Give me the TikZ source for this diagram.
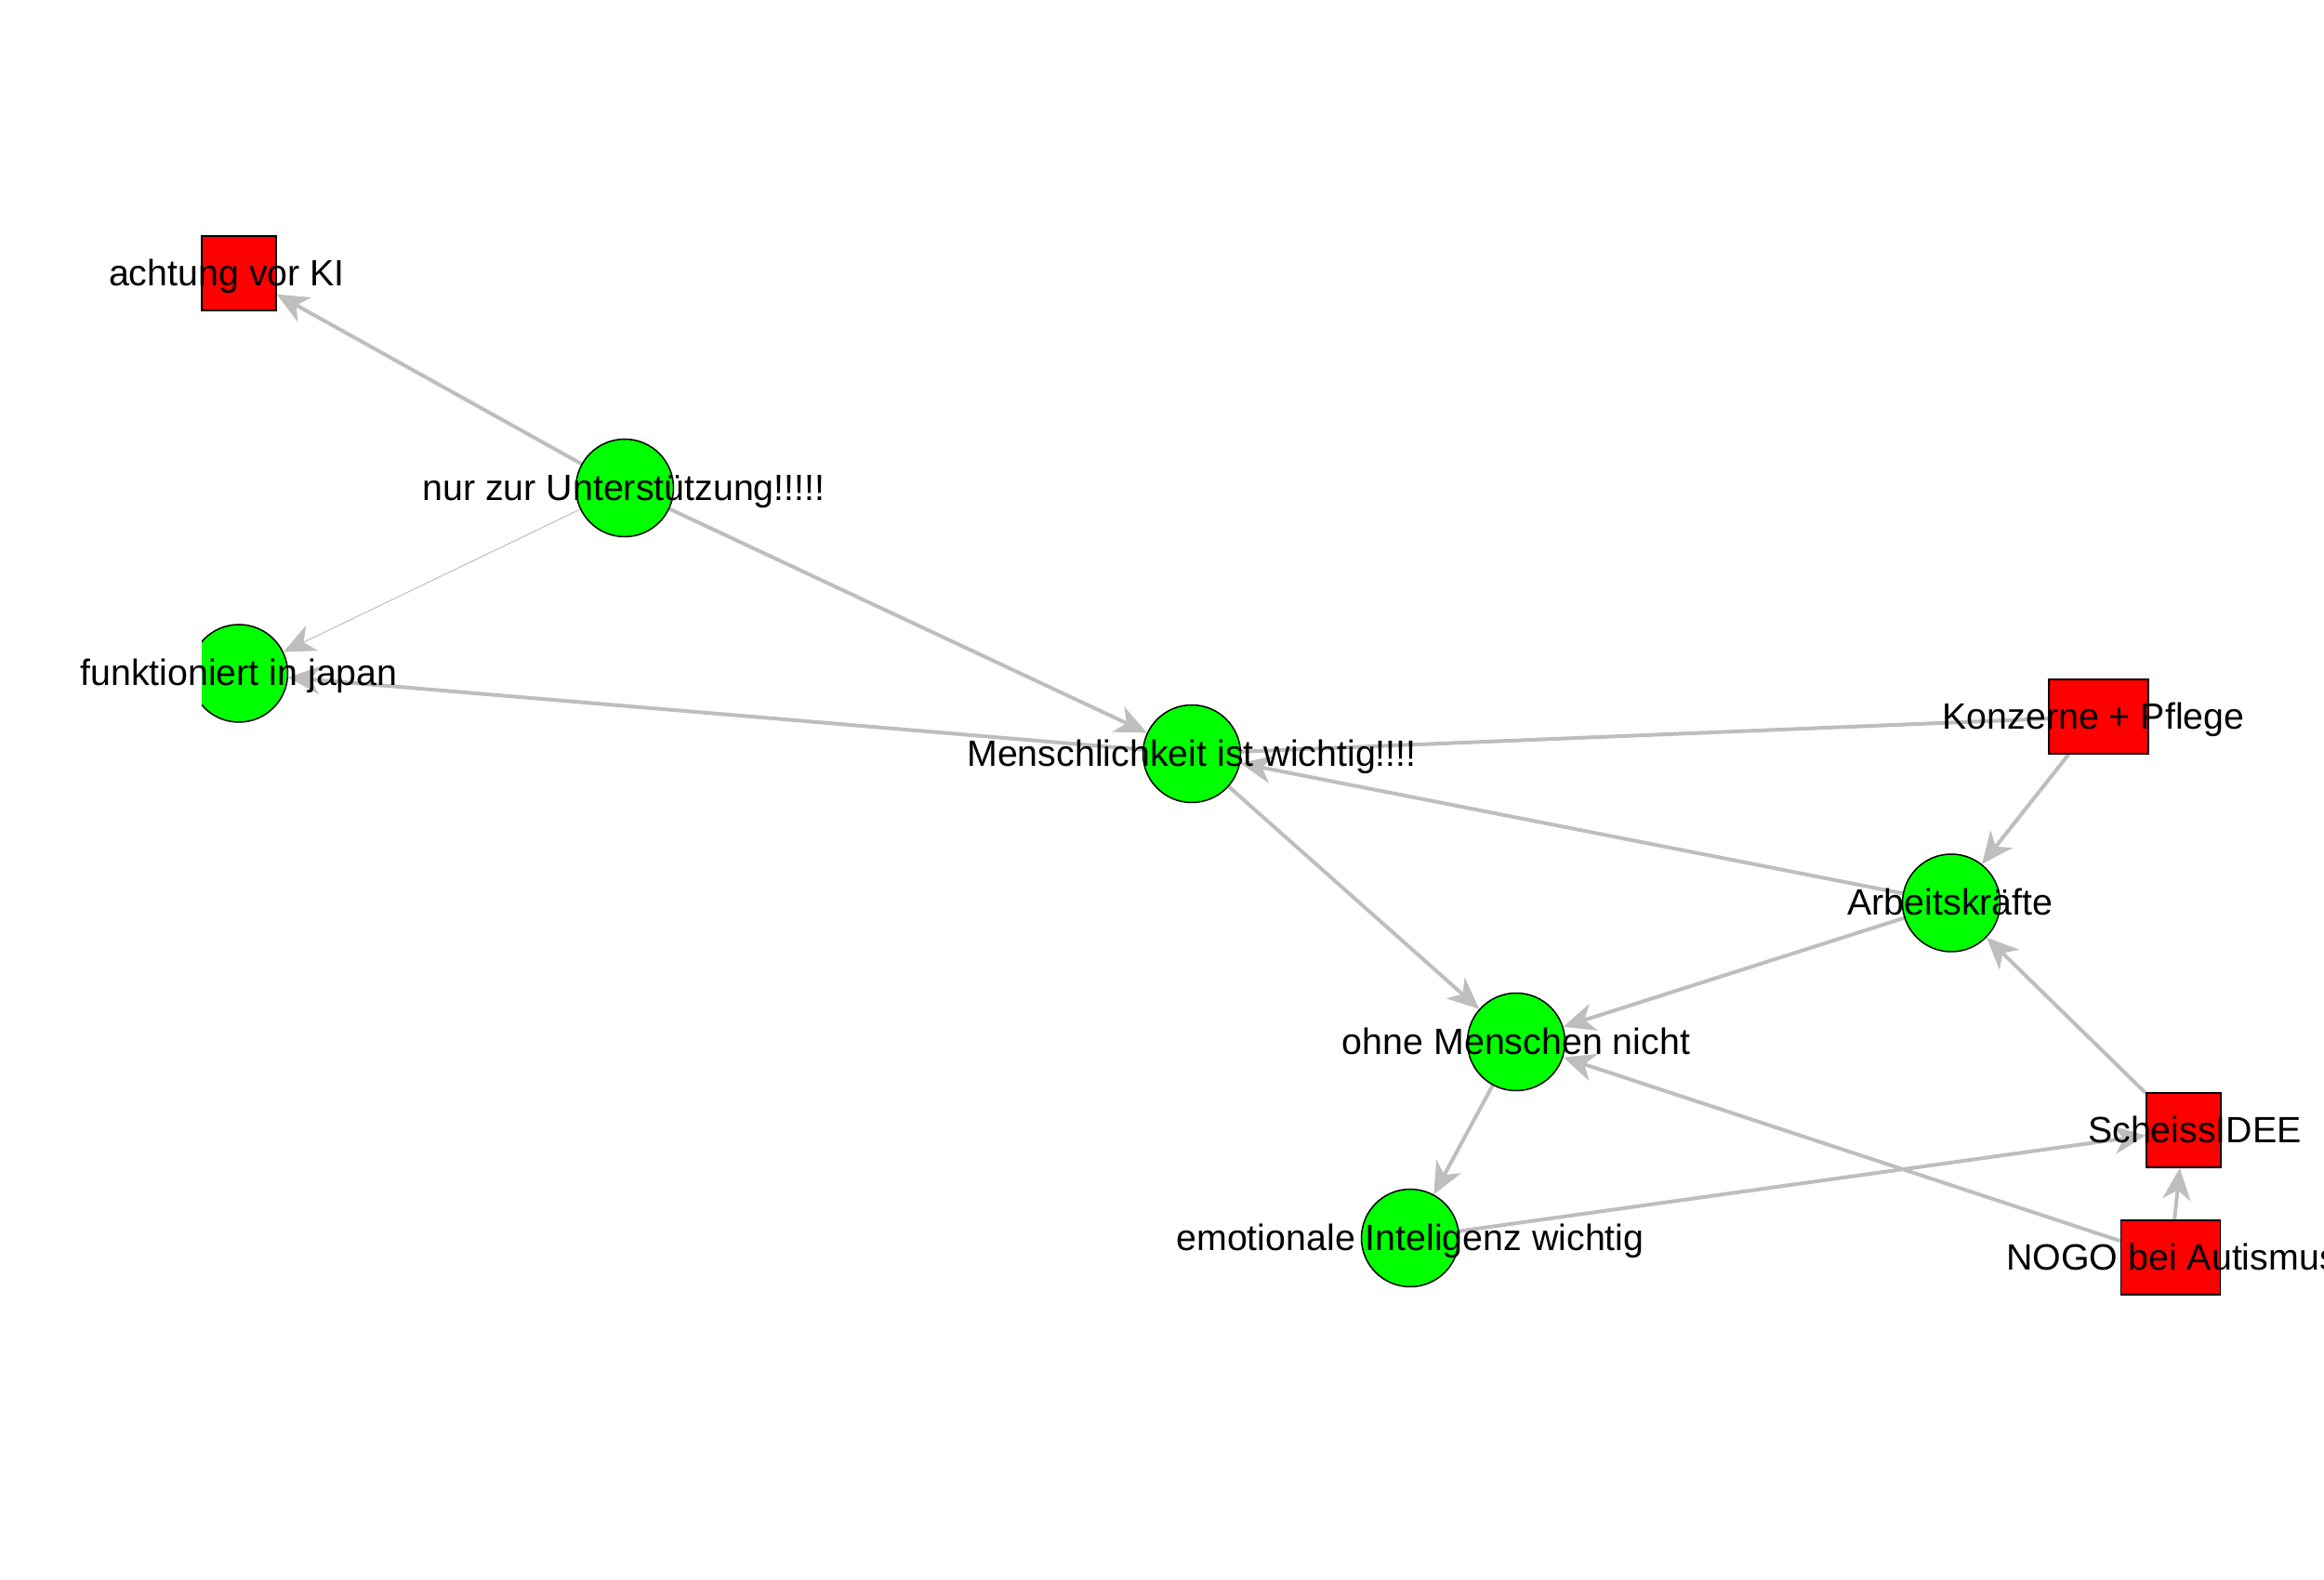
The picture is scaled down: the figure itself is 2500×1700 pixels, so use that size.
\documentclass[tikz,border=0pt]{standalone}
\usepackage{fontspec}
\setmainfont{Liberation Sans}
\usetikzlibrary{arrows.meta,backgrounds}
\definecolor{vgreen}{HTML}{00FF00}
\definecolor{vred}{HTML}{FF0000}
\definecolor{egray}{HTML}{BEBEBE}
\tikzset{
  vcirc/.style={circle, draw=black, line width=0.15mm, fill=vgreen, minimum size=10.5mm, inner sep=0pt},
  vsq/.style={rectangle, draw=black, line width=0.15mm, fill=vred, minimum width=8mm, minimum height=8mm, inner sep=0pt},
  vsqw/.style={vsq, minimum width=10.7mm},
  lab/.style={font=\fontsize{11.2pt}{13pt}\selectfont, inner sep=0pt, text height=2.8mm, text depth=0pt, text=black},
  conn/.style={draw=egray, line width=0.4mm, -{Stealth[length=3.4mm,width=3mm,inset=1mm]}},
  connthin/.style={conn, line width=0.1mm},
  connplain/.style={draw=egray, line width=0.4mm}
}
\begin{document}
\begin{tikzpicture}[x=0.1mm, y=-0.1mm]
\useasboundingbox (0,0) rectangle (2500,1700);
\clip (0,0) rectangle (2500,1700);

% vertices
\node[vsq] (ach) at (257,294) {};
\node[vcirc] (nur) at (672,525) {};
\begin{scope}
  \clip (217,600) rectangle (400,850);
  \node[vcirc] (funk) at (257,724.5) {};
\end{scope}
\node[vcirc] (mensch) at (1282,811) {};
\node[vsqw] (konz) at (2257.5,771) {};
\node[vcirc] (arbeit) at (2099,971.5) {};
\node[vcirc] (ohne) at (1631,1121) {};
\node[vcirc] (emot) at (1517,1332) {};
\node[vsq] (scheiss) at (2349,1216) {};
\node[vsqw] (nogo) at (2335,1353) {};

% edges
\begin{pgfonlayer}{background}
\fill[white] (0,0) rectangle (2500,1700);
\draw[conn] (nur) -- (ach);
\draw[connthin] (nur) -- (funk);
\draw[conn] (nur) -- (mensch);
\draw[conn] (mensch) -- (funk);
\draw[connplain] (konz) -- (mensch);
\draw[conn] (arbeit) -- (mensch);
\draw[conn] (konz) -- (arbeit);
\draw[conn] (mensch) -- (ohne);
\draw[conn] (arbeit) -- (ohne);
\draw[conn] (scheiss) -- (arbeit);
\draw[conn] (nogo) -- (ohne);
\draw[conn] (ohne) -- (emot);
\draw[conn] (emot) -- (scheiss);
\draw[conn] (nogo) -- (scheiss);
\end{pgfonlayer}

% labels
\node[lab] (lach) at (244,294) {achtung vor KI};
\node[lab] (lnur) at (671,525) {nur zur Unterstützung!!!!!};
\node[lab] (lfunk) at (257,724) {funktioniert in japan};
\node[lab] (lmensch) at (1282,811) {Menschlichkeit ist wichtig!!!!};
\node[lab] (lkonz) at (2252,771) {Konzerne + Pflege};
\node[lab] (larbeit) at (2098,971) {Arbeitskräfte};
\node[lab] (lohne) at (1631,1121) {ohne Menschen nicht};
\node[lab] (lemot) at (1517,1332) {emotionale Inteligenz wichtig};
\node[lab] (lscheiss) at (2361,1216) {ScheissIDEE};
\node[lab] (lnogo) at (2336.5,1353) {NOGO bei Autismus};
\end{tikzpicture}
\end{document}
